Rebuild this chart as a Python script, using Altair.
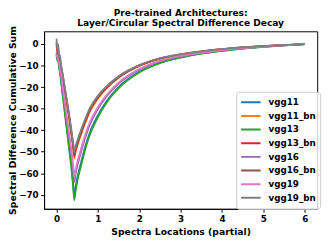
import altair as alt
import pandas as pd

xs = [0.0, 0.02, 0.04, 0.06, 0.08, 0.10, 0.15, 0.20, 0.25, 0.30, 0.35, 0.40, 0.43,
      0.46, 0.50, 0.60, 0.70, 0.80, 1.0, 1.2, 1.5, 2.0, 2.5, 3.0, 3.5, 4.0, 4.5, 5.0, 5.5, 6.0]

vgg11 = [-5, -4, -7, -9, -12, -15, -23, -31, -39, -47, -55, -64, -70.5,
         -66.6, -62.3, -54.5, -47.2, -41.4, -33.1, -26.8, -20, -12.9, -8.7, -6.2, -4.4, -3.1, -2.1, -1.3, -0.6, 0]
vgg11_bn = [-2, -3, -5, -6, -9, -11, -16, -22, -28, -34, -41, -48, -53,
            -50.2, -47.5, -41.6, -36.3, -31.6, -25.3, -20.8, -15.7, -10.2, -6.9, -4.9, -3.5, -2.5, -1.7, -1.0, -0.5, 0]
vgg13 = [-5, -8, -6, -11, -13, -16, -24, -32, -40, -48, -56, -66, -72.5,
         -68.5, -64, -56, -48.5, -42.5, -34, -27.5, -20.5, -13.2, -8.9, -6.3, -4.5, -3.2, -2.1, -1.3, -0.6, 0]
vgg13_bn = [0, -4, -2, -7, -7, -10, -15, -21, -27, -33, -40, -47, -52,
            -49.4, -46.7, -41, -35.8, -31.1, -24.9, -20.5, -15.5, -10.1, -6.8, -4.8, -3.5, -2.5, -1.6, -1.0, -0.5, 0]
vgg16 = [-4, -7, -5, -9, -11, -14, -21, -28, -35, -42, -50, -58, -64,
         -60.5, -56.8, -49.7, -43.2, -37.8, -30.2, -24.6, -18.4, -11.9, -8.0, -5.7, -4.1, -2.9, -1.9, -1.2, -0.6, 0]
vgg16_bn = [1, -2, -1, -6, -6, -9, -14.5, -20.5, -26.5, -32.5, -39.5, -46.5, -51,
            -48.3, -45.8, -40.2, -35.1, -30.5, -24.4, -20.1, -15.2, -9.9, -6.7, -4.8, -3.4, -2.4, -1.6, -1.0, -0.5, 0]
vgg19 = [-6, -5, -8, -8, -11, -13, -20, -27, -34, -41, -48, -56, -62,
         -58.6, -55.1, -48.2, -41.9, -36.6, -29.3, -23.9, -17.9, -11.6, -7.8, -5.5, -4.0, -2.8, -1.9, -1.2, -0.6, 0]
vgg19_bn = [2.5, -3, 0, -5, -5, -8, -14, -20, -26, -32, -38.5, -45.5, -50,
            -47.5, -45, -39.5, -34.5, -30, -24, -19.8, -15, -9.8, -6.6, -4.7, -3.4, -2.4, -1.6, -1.0, -0.5, 0]

names = ["vgg11", "vgg11_bn", "vgg13", "vgg13_bn", "vgg16", "vgg16_bn", "vgg19", "vgg19_bn"]
series = [vgg11, vgg11_bn, vgg13, vgg13_bn, vgg16, vgg16_bn, vgg19, vgg19_bn]
colors = ["#1f77b4", "#ff7f0e", "#2ca02c", "#d62728", "#9467bd", "#8c564b", "#e377c2", "#7f7f7f"]

x_ticks = [0, 1, 2, 3, 4, 5, 6]
y_ticks = [0, -10, -20, -30, -40, -50, -60, -70]

rows = []
for name, vals in zip(names, series):
    for i, (x, y) in enumerate(zip(xs, vals)):
        rows.append({"x": x, "y": y, "series": name, "i": i})
df = pd.DataFrame(rows)

FONT = "DejaVu Sans"

chart = alt.Chart(df).mark_line(strokeWidth=1.8, clip=True, interpolate="monotone").encode(
    x=alt.X("x:Q",
            scale=alt.Scale(domain=[-0.3, 6.3], nice=False, zero=False),
            axis=alt.Axis(values=x_ticks, format="d", title="Spectra Locations (partial)",
                          grid=False, titlePadding=3)),
    y=alt.Y("y:Q",
            scale=alt.Scale(domain=[-76.5, 5.9], nice=False, zero=False),
            axis=alt.Axis(values=y_ticks, format="d", title="Spectral Difference Cumulative Sum",
                          grid=False, titleX=-27.5, titleY=91)),
    color=alt.Color("series:N",
                    scale=alt.Scale(domain=names, range=colors),
                    legend=alt.Legend(title=None, orient="none", legendX=197, legendY=62,
                                      symbolType="stroke", symbolSize=400, symbolStrokeWidth=2,
                                      clipHeight=13.5, rowPadding=0, labelOffset=7,
                                      padding=4, strokeColor="#cccccc",
                                      fillColor="rgba(255,255,255,0.8)", cornerRadius=3,
                                      labelFont=FONT, labelFontSize=9, labelFontWeight="bold",
                                      labelColor="black")),
    detail="series:N",
    order="i:Q",
).properties(
    width=280,
    height=182,
    title=alt.TitleParams(text=["Pre-trained Architectures:", "Layer/Circular Spectral Difference Decay"],
                          font=FONT, fontSize=9.3, fontWeight="bold", color="black",
                          lineHeight=10.5, offset=-3, anchor="middle"),
    autosize=alt.AutoSizeParams(type="none"),
    padding={"left": 37, "top": 21, "right": 8, "bottom": 26},
).configure_view(
    stroke="black", strokeWidth=1
).configure_axis(
    domainColor="black", tickColor="black", tickSize=3.5, tickWidth=1,
    labelFont=FONT, labelFontSize=9, labelFontWeight="bold", labelColor="black",
    labelPadding=2.5,
    titleFont=FONT, titleFontSize=9.5, titleFontWeight="bold", titleColor="black",
)

chart.save("out.html", embed_options={"renderer": "svg", "actions": False})
